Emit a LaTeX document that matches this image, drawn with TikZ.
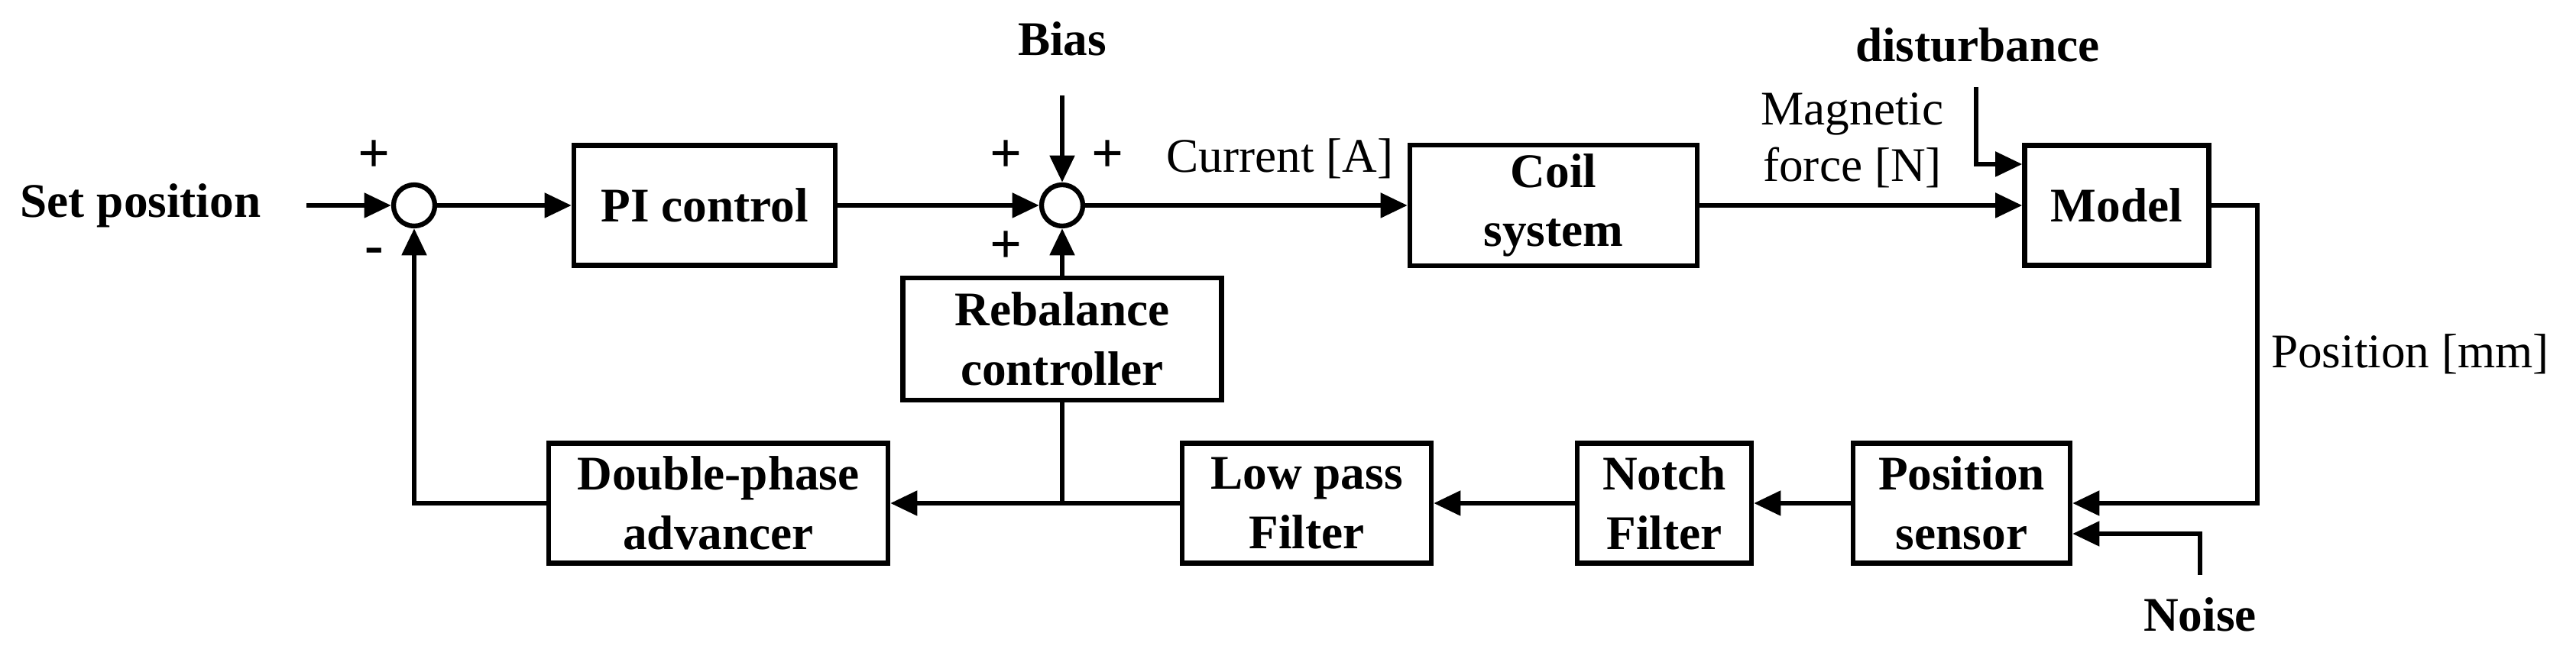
\documentclass[tikz,border=0pt]{standalone}
\usepackage{fontspec}
\setmainfont{Liberation Serif}
\usetikzlibrary{arrows.meta,positioning}

\begin{document}
\begin{tikzpicture}[>={Triangle[length=10pt,width=9pt]},line width=1.8pt,
                    font=\fontsize{18}{21}\selectfont]

  \tikzset{block/.style={draw,rectangle,align=center,font=\fontsize{18}{22}\selectfont\bfseries,
                         minimum height=1.57cm},
           sum/.style={draw,circle,minimum size=0.54cm,inner sep=0pt},
           lbl/.style={font=\fontsize{18}{21}\selectfont\bfseries},
           sgn/.style={font=\fontsize{21}{23}\selectfont\bfseries}}

  \useasboundingbox (0,0) rectangle (33.71,8.46);

  % forward path
  \node[lbl]  (SET) at (1.84,5.77) {Set position};
  \coordinate (IN) at (4.01,5.77);
  \node[sum]  (S1) at (5.42,5.77) {};
  \node[block,minimum width=3.42cm] (PI)  at (9.22,5.77)  {PI control};
  \node[sum]  (S2) at (13.90,5.77) {};
  \node[block,minimum width=3.76cm] (COIL) at (20.33,5.77) {Coil\\system};
  \node[block,minimum width=2.41cm] (MOD)  at (27.70,5.77) {Model};

  % feedback path
  \node[block,minimum width=4.17cm,minimum height=1.6cm] (REB) at (13.90,4.02) {Rebalance\\controller};
  \node[block,minimum width=2.84cm] (SENS) at (25.67,1.87) {Position\\sensor};
  \node[block,minimum width=2.28cm] (NOT)  at (21.78,1.87) {Notch\\Filter};
  \node[block,minimum width=3.26cm] (LPF)  at (17.10,1.87) {Low pass\\Filter};
  \node[block,minimum width=4.44cm] (DPA)  at (9.40,1.87)  {Double-phase\\advancer};

  % external inputs
  \node[lbl] (BIAS) at (13.90,7.95) {Bias};
  \coordinate (BIAST) at (13.90,7.21);
  \node[lbl] (DIST) at (25.88,7.87) {disturbance};
  \coordinate (DISTT) at (25.86,7.32);
  \node[lbl] (NOISE) at (28.79,0.41) {Noise};
  \coordinate (NOISET) at (28.79,0.93);
  \coordinate (RIGHT) at (29.54,5.77);
  \coordinate (SPLIT) at (13.90,1.87);

  % signs
  \node[sgn] (P1) at (4.90,6.41) {+};
  \node[sgn] (M1) at (4.90,5.11) {-};
  \node[sgn] (P2) at (13.17,6.41) {+};
  \node[sgn] (P3) at (14.50,6.41) {+};
  \node[sgn] (P4) at (13.17,5.22) {+};

  % signal labels
  \node (CUR) at (16.75,6.38) {Current [A]};
  \node[align=center] (MAG) at (24.24,6.62) {Magnetic\\force [N]};
  \node (POS) at (31.54,3.82) {Position [mm]};

  \draw[->] (IN) -- (S1);
  \draw[->] (S1) -- (PI);
  \draw[->] (PI) -- (S2);
  \draw[->] (BIAST) -- (S2);
  \draw[->] (S2) -- (COIL);
  \draw[->] (COIL) -- (MOD);
  \draw[->] (DISTT) |- ([yshift=0.54cm]MOD.west);
  \draw[->] (MOD.east) -- (RIGHT) |- (SENS.east);
  \draw[->] (NOISET) |- ([yshift=-0.40cm]SENS.east);
  \draw[->] (SENS) -- (NOT);
  \draw[->] (NOT) -- (LPF);
  \draw[->] (LPF) -- (DPA);
  \draw[->] (REB) -- (S2);
  \draw (REB) -- (SPLIT);
  \draw[->] (DPA.west) -| (S1);
\end{tikzpicture}
\end{document}
